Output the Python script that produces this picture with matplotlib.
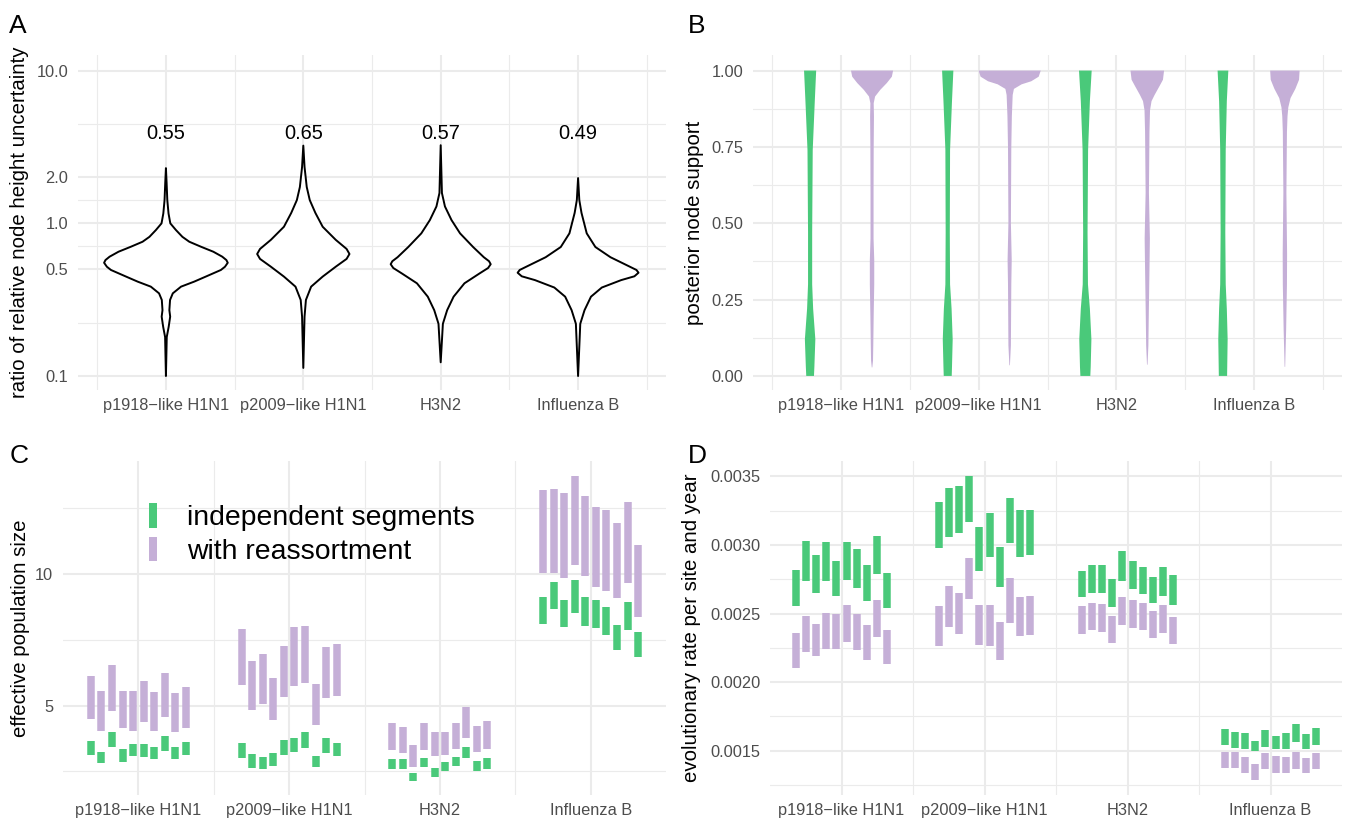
import numpy as np
import matplotlib
matplotlib.use('Agg')
import matplotlib.pyplot as plt
from matplotlib.patches import Patch
from matplotlib.ticker import NullFormatter

plt.rcParams['font.family'] = ['Liberation Sans', 'DejaVu Sans']

GREEN = '#4AC97A'
PURPLE = '#C5AFD7'
GRID = '#EBEBEB'
TICK = '#4D4D4D'

categories = ['p1918\u2212like H1N1', 'p2009\u2212like H1N1', 'H3N2', 'Influenza B']

# ---- panel A: ratio violins (value, half width in category units)
ratio_labels = ['0.55', '0.65', '0.57', '0.49']
ratio_y = [
    [2.30, 1.84, 1.42, 1.16, 1.0, 0.904, 0.816, 0.758, 0.703, 0.652, 0.605, 0.575, 0.552, 0.52, 0.495,
     0.448, 0.415, 0.385, 0.348, 0.315, 0.27, 0.245, 0.21, 0.18, 0.10],
    [3.23, 2.34, 1.73, 1.42, 1.17, 0.95, 0.78, 0.68, 0.63, 0.585, 0.52, 0.448, 0.385, 0.315, 0.245, 0.113],
    [3.25, 1.58, 1.29, 1.05, 0.86, 0.70, 0.60, 0.565, 0.54, 0.51, 0.47, 0.405, 0.331, 0.27, 0.22, 0.123],
    [1.98, 1.42, 1.17, 0.86, 0.70, 0.60, 0.52, 0.495, 0.475, 0.45, 0.425, 0.38, 0.331, 0.27, 0.22, 0.10],
]
ratio_w = [
    [0.0, 0.005, 0.010, 0.019, 0.032, 0.073, 0.12, 0.17, 0.255, 0.345, 0.41, 0.44, 0.45, 0.43, 0.40,
     0.29, 0.205, 0.11, 0.05, 0.03, 0.025, 0.031, 0.02, 0.006, 0.0],
    [0.0, 0.009, 0.025, 0.047, 0.088, 0.141, 0.236, 0.315, 0.336, 0.315, 0.236, 0.141, 0.057, 0.019, 0.009, 0.0],
    [0.0, 0.009, 0.031, 0.079, 0.141, 0.236, 0.314, 0.352, 0.364, 0.345, 0.283, 0.173, 0.094, 0.047, 0.016, 0.0],
    [0.0, 0.009, 0.025, 0.063, 0.126, 0.236, 0.377, 0.425, 0.44, 0.41, 0.314, 0.173, 0.094, 0.047, 0.016, 0.0],
]

# ---- panel B: posterior support violins
green_y = [1.0, 0.9, 0.74, 0.47, 0.3, 0.22, 0.12, 0.03, 0.0]
green_w = [
    [0.044, 0.034, 0.019, 0.015, 0.015, 0.022, 0.038, 0.031, 0.028],
    [0.041, 0.031, 0.017, 0.015, 0.017, 0.028, 0.036, 0.031, 0.029],
    [0.046, 0.033, 0.020, 0.016, 0.019, 0.033, 0.044, 0.039, 0.036],
    [0.039, 0.028, 0.020, 0.017, 0.020, 0.028, 0.034, 0.031, 0.030],
]
purple_y = [
    [1.0, 0.98, 0.959, 0.937, 0.915, 0.893, 0.85, 0.75, 0.6, 0.45, 0.38, 0.3, 0.2, 0.1, 0.05, 0.028],
    [1.0, 0.98, 0.965, 0.955, 0.94, 0.92, 0.85, 0.75, 0.5, 0.38, 0.3, 0.1, 0.035],
    [1.0, 0.97, 0.95, 0.92, 0.90, 0.87, 0.8, 0.6, 0.45, 0.35, 0.2, 0.1, 0.037],
    [1.0, 0.97, 0.94, 0.91, 0.88, 0.85, 0.8, 0.6, 0.4, 0.3, 0.15, 0.03],
]
purple_w = [
    [0.153, 0.144, 0.107, 0.060, 0.022, 0.012, 0.014, 0.012, 0.011, 0.011, 0.016, 0.016, 0.012, 0.009, 0.007, 0.002],
    [0.226, 0.211, 0.157, 0.087, 0.031, 0.022, 0.016, 0.012, 0.009, 0.015, 0.012, 0.009, 0.002],
    [0.122, 0.114, 0.090, 0.053, 0.031, 0.020, 0.016, 0.012, 0.019, 0.016, 0.011, 0.008, 0.002],
    [0.107, 0.103, 0.076, 0.041, 0.025, 0.019, 0.015, 0.011, 0.016, 0.015, 0.009, 0.002],
]

# ---- panel C: effective population size intervals (upper, lower), 10 runs each
ne_ind_hi = [
    [3.65, 3.24, 3.99, 3.34, 3.53, 3.54, 3.44, 3.84, 3.42, 3.63],
    [3.57, 3.15, 3.04, 3.21, 3.70, 3.78, 3.99, 3.10, 3.76, 3.59],
    [2.96, 2.96, 2.43, 3.02, 2.64, 2.86, 3.04, 3.44, 2.90, 3.00],
    [9.14, 9.71, 9.02, 9.78, 9.11, 9.02, 8.73, 8.08, 8.95, 7.80],
]
ne_ind_lo = [
    [3.13, 2.81, 3.43, 2.86, 3.08, 3.06, 2.96, 3.29, 2.95, 3.13],
    [3.02, 2.64, 2.59, 2.71, 3.13, 3.23, 3.40, 2.66, 3.19, 3.09],
    [2.59, 2.59, 2.15, 2.68, 2.30, 2.52, 2.72, 3.00, 2.53, 2.60],
    [8.10, 8.67, 7.98, 8.51, 8.04, 7.95, 7.69, 7.11, 7.89, 6.83],
]
ne_re_hi = [
    [6.12, 5.55, 6.54, 5.57, 5.55, 5.94, 5.53, 6.24, 5.47, 5.70],
    [7.90, 6.70, 6.95, 6.03, 7.28, 7.97, 8.04, 5.83, 7.23, 7.35],
    [4.33, 4.20, 3.51, 4.33, 4.01, 4.01, 4.33, 4.96, 4.23, 4.42],
    [13.18, 13.24, 13.08, 13.73, 12.97, 12.54, 12.44, 11.94, 12.73, 11.10],
]
ne_re_lo = [
    [4.49, 4.03, 4.81, 4.13, 4.05, 4.39, 4.04, 4.56, 4.01, 4.14],
    [5.79, 4.84, 5.05, 4.46, 5.34, 5.76, 5.85, 4.27, 5.30, 5.37],
    [3.32, 3.21, 2.68, 3.32, 3.09, 3.13, 3.34, 3.78, 3.23, 3.34],
    [10.06, 10.06, 9.84, 10.35, 9.94, 9.52, 9.37, 9.08, 9.67, 8.35],
]

# ---- panel D: evolutionary rate intervals (x 1e-3)
rate_ind_hi = [
    [2.818, 3.032, 2.928, 3.024, 2.886, 3.020, 2.969, 2.855, 3.068, 2.799],
    [3.316, 3.413, 3.432, 3.503, 3.134, 3.236, 2.988, 3.340, 3.255, 3.255],
    [2.813, 2.855, 2.855, 2.753, 2.957, 2.886, 2.838, 2.765, 2.842, 2.782],
    [1.660, 1.638, 1.631, 1.573, 1.651, 1.609, 1.631, 1.694, 1.624, 1.667],
]
rate_ind_lo = [
    [2.558, 2.740, 2.649, 2.740, 2.631, 2.745, 2.689, 2.593, 2.789, 2.539],
    [2.976, 3.061, 3.086, 3.166, 2.813, 2.911, 2.692, 3.013, 2.911, 2.928],
    [2.624, 2.649, 2.649, 2.551, 2.740, 2.678, 2.641, 2.576, 2.629, 2.563],
    [1.544, 1.517, 1.510, 1.500, 1.529, 1.510, 1.515, 1.563, 1.510, 1.541],
]
rate_re_hi = [
    [2.357, 2.483, 2.425, 2.507, 2.498, 2.563, 2.496, 2.413, 2.600, 2.381],
    [2.556, 2.702, 2.653, 2.903, 2.563, 2.563, 2.437, 2.758, 2.619, 2.631],
    [2.556, 2.580, 2.568, 2.483, 2.624, 2.600, 2.580, 2.520, 2.563, 2.478],
    [1.493, 1.488, 1.451, 1.400, 1.485, 1.458, 1.454, 1.488, 1.449, 1.485],
]
rate_re_lo = [
    [2.102, 2.223, 2.187, 2.243, 2.243, 2.296, 2.236, 2.158, 2.328, 2.131],
    [2.265, 2.401, 2.352, 2.605, 2.272, 2.265, 2.162, 2.430, 2.338, 2.345],
    [2.352, 2.381, 2.365, 2.284, 2.418, 2.394, 2.381, 2.321, 2.357, 2.277],
    [1.371, 1.371, 1.335, 1.284, 1.369, 1.340, 1.335, 1.369, 1.335, 1.364],
]


def violin(ax, x0, ys, ws, **kw):
    ys = np.asarray(ys, float)
    ws = np.asarray(ws, float)
    xs = np.concatenate([x0 + ws, (x0 - ws)[::-1]])
    yy = np.concatenate([ys, ys[::-1]])
    ax.fill(xs, yy, **kw)


def style(ax, xminor, yticks, ylabels, yminor):
    ax.set_xticks([1, 2, 3, 4])
    ax.set_xticklabels(categories)
    ax.set_xticks(xminor, minor=True)
    ax.set_yticks(yticks)
    ax.set_yticklabels(ylabels)
    ax.set_yticks(yminor, minor=True)
    ax.yaxis.set_minor_formatter(NullFormatter())
    ax.xaxis.set_minor_formatter(NullFormatter())
    ax.grid(which='major', color=GRID, lw=1.5)
    ax.grid(which='minor', color=GRID, lw=0.8)
    ax.set_axisbelow(True)
    ax.tick_params(which='both', length=0, labelcolor=TICK, labelsize=11.75)
    ax.tick_params(axis='y', pad=7)
    ax.tick_params(axis='x', pad=6)
    for s in ax.spines.values():
        s.set_visible(False)


fig = plt.figure(figsize=(13.5, 8.23), dpi=100)
W, H = 1350.0, 823.0


def add_axes(l, r, t, b):
    return fig.add_axes([l / W, 1 - b / H, (r - l) / W, (b - t) / H])


axA = add_axes(78, 666, 55, 390)
axB = add_axes(753, 1342, 55, 390)
axC = add_axes(63, 666, 461, 795)
axD = add_axes(770, 1342, 461, 795)

# A
axA.set_yscale('log')
for i in range(4):
    violin(axA, i + 1, ratio_y[i], ratio_w[i], facecolor='white', edgecolor='black',
           lw=1.4, joinstyle='round', zorder=3)
    axA.text(i + 1, 3.9, ratio_labels[i], ha='center', va='center', fontsize=14.4, color='black')
axA.set_xlim(0.36, 4.64)
axA.set_ylim(0.081, 12.67)
style(axA, [0.5, 1.5, 2.5, 3.5, 4.5], [0.1, 0.5, 1.0, 2.0, 10.0],
      ['0.1', '0.5', '1.0', '2.0', '10.0'], [0.2236, 0.7071, 1.4142, 4.4721])
axA.set_ylabel('ratio of relative node height uncertainty', fontsize=14.7, va='center')
axA.yaxis.set_label_coords(-0.100, 0.5)

# B
for i in range(4):
    violin(axB, i + 1 - 0.225, green_y, green_w[i], facecolor=GREEN, edgecolor='none', zorder=3)
    violin(axB, i + 1 + 0.225, purple_y[i], purple_w[i], facecolor=PURPLE, edgecolor='none', zorder=3)
axB.set_xlim(0.36, 4.64)
axB.set_ylim(-0.046, 1.051)
style(axB, [0.5, 1.5, 2.5, 3.5, 4.5], [0, 0.25, 0.5, 0.75, 1.0],
      ['0.00', '0.25', '0.50', '0.75', '1.00'], [0.125, 0.375, 0.625, 0.875])
axB.set_ylabel('posterior node support', fontsize=14.7, va='center')
axB.yaxis.set_label_coords(-0.0985, 0.5)

# C and D intervals
offsets = (np.arange(10) - 4.5) * 0.07
bar_lw = 5.4
for i in range(4):
    xs = i + 1 + offsets
    axC.vlines(xs, ne_re_lo[i], ne_re_hi[i], color=PURPLE, lw=bar_lw, zorder=3)
    axC.vlines(xs, ne_ind_lo[i], ne_ind_hi[i], color=GREEN, lw=bar_lw, zorder=3)
    axD.vlines(xs, np.array(rate_re_lo[i]) / 1000, np.array(rate_re_hi[i]) / 1000, color=PURPLE, lw=bar_lw, zorder=3)
    axD.vlines(xs, np.array(rate_ind_lo[i]) / 1000, np.array(rate_ind_hi[i]) / 1000, color=GREEN, lw=bar_lw, zorder=3)

axC.set_xlim(0.5, 4.5)
axC.set_ylim(1.60, 14.30)
style(axC, [1.5, 2.5, 3.5], [5, 10], ['5', '10'], [2.5, 7.5, 12.5])
axC.set_ylabel('effective population size', fontsize=14.7, va='center')
axC.yaxis.set_label_coords(-0.070, 0.5)

handles = [Patch(facecolor=GREEN, edgecolor='none'), Patch(facecolor=PURPLE, edgecolor='none')]
axC.legend(handles, ['independent segments', 'with reassortment'], loc='upper left',
           bbox_to_anchor=(0.1426, 0.874), frameon=False, fontsize=20.4,
           handlelength=0.3, handleheight=0.95, handletextpad=1.05,
           labelspacing=0.2, borderpad=0, borderaxespad=0)

axD.set_xlim(0.5, 4.5)
axD.set_ylim(0.001177, 0.003612)
dt = [0.0015, 0.0020, 0.0025, 0.0030, 0.0035]
style(axD, [1.5, 2.5, 3.5], dt, ['%.4f' % v for v in dt],
      [0.00125, 0.00175, 0.00225, 0.00275, 0.00325])
axD.set_ylabel('evolutionary rate per site and year', fontsize=14.7, va='center')
axD.yaxis.set_label_coords(-0.138, 0.5)

# panel letters
for lab, x, y in [('A', 9, 33), ('B', 688, 33), ('C', 10, 463), ('D', 688, 463)]:
    fig.text(x / W, 1 - y / H, lab, fontsize=19, ha='left', va='baseline')

fig.savefig('out.png', dpi=100)
